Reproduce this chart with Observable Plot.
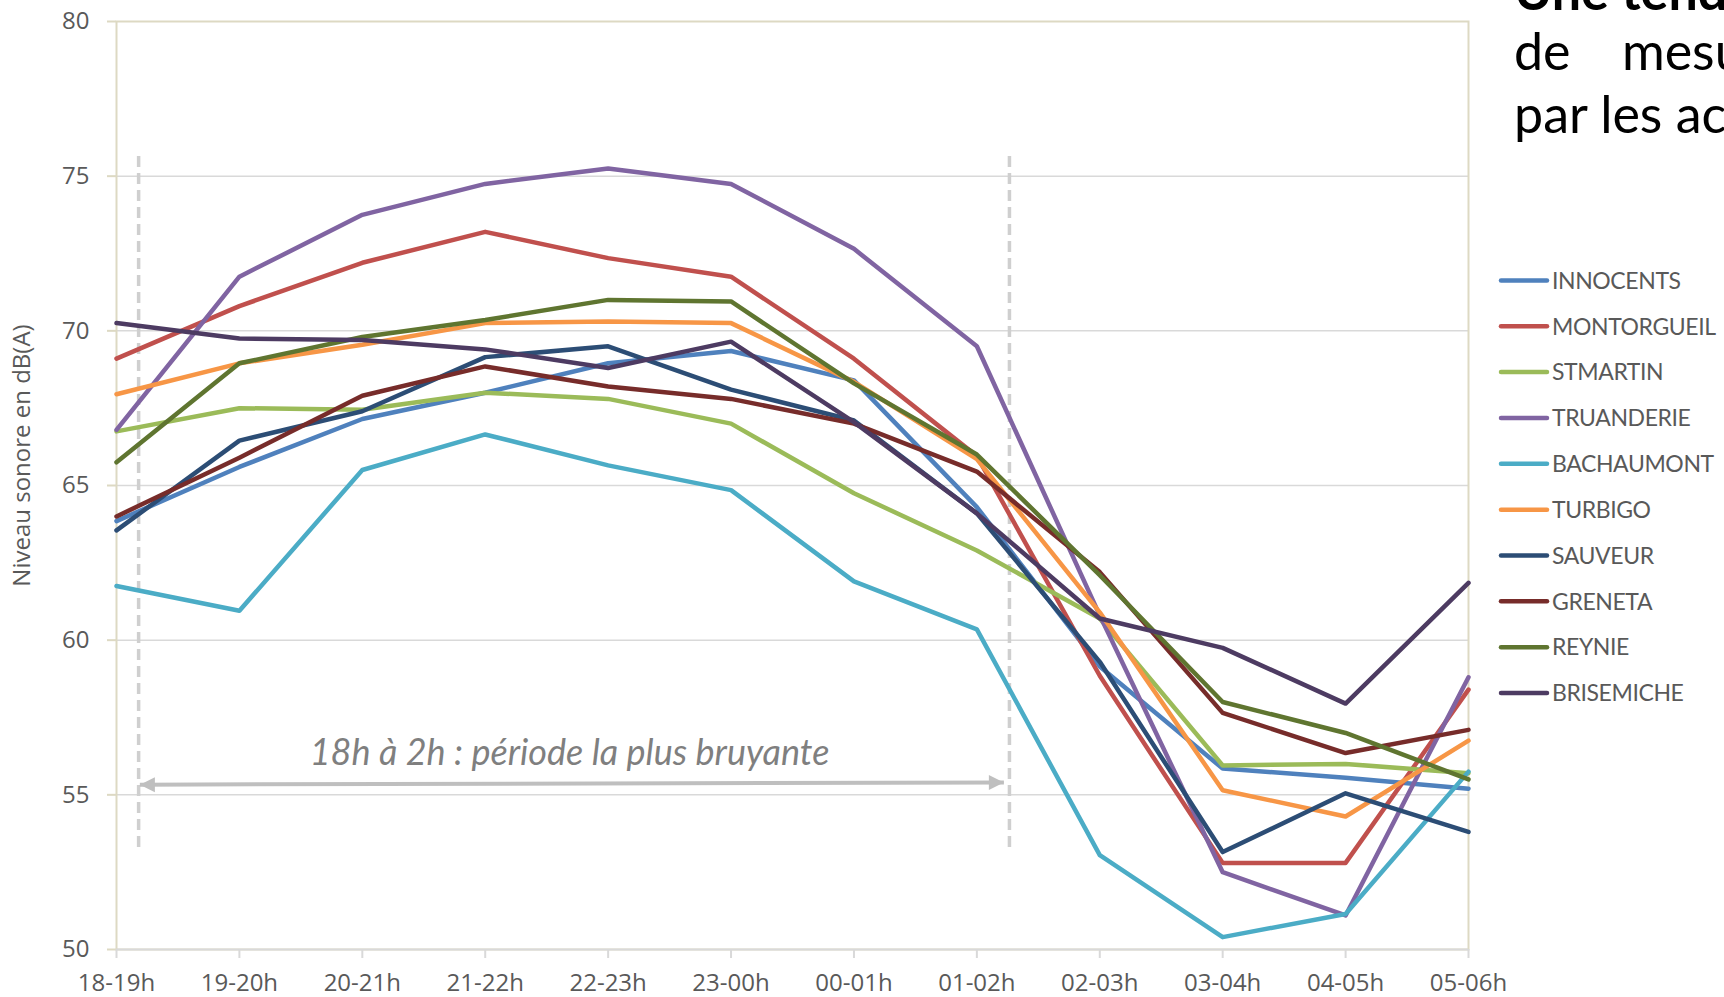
<!DOCTYPE html>
<html>
<head>
<meta charset="utf-8">
<script src="https://cdn.jsdelivr.net/npm/d3@7"></script>
<script src="https://cdn.jsdelivr.net/npm/@observablehq/plot@0.6"></script>
<style>
  html, body { margin: 0; padding: 0; background: #fff; overflow: hidden; width: 1724px; height: 997px; }
  #wrap { position: relative; width: 1724px; height: 997px; overflow: hidden; }
  #chart { position: absolute; left: 0; top: 0; }
  #overlay { position: absolute; left: 0; top: 0; pointer-events: none; }
</style>
</head>
<body>
<div id="wrap">
  <div id="chart"></div>
  <svg id="overlay" width="1724" height="997"></svg>
</div>
<script>
// ---- Data ----
const hours = ["18-19h","19-20h","20-21h","21-22h","22-23h","23-00h","00-01h","01-02h","02-03h","03-04h","04-05h","05-06h"];
const sites = ["INNOCENTS","MONTORGUEIL","STMARTIN","TRUANDERIE","BACHAUMONT","TURBIGO","SAUVEUR","GRENETA","REYNIE","BRISEMICHE"];
const colors = ["#4F81BD","#C0504D","#9BBB59","#8064A2","#4BACC6","#F79646","#2C4D75","#772C2A","#5F7530","#4D3B62"];

const innocents   = [63.85, 65.6, 67.15, 68.0, 68.95, 69.35, 68.4, 64.3, 59.15, 55.85, 55.55, 55.2];
const montorgueil = [69.1, 70.8, 72.2, 73.2, 72.35, 71.75, 69.1, 65.95, 58.85, 52.8, 52.8, 58.4];
const stmartin    = [66.75, 67.5, 67.45, 68.0, 67.8, 67.0, 64.75, 62.9, 60.7, 55.95, 56.0, 55.7];
const truanderie  = [66.8, 71.75, 73.75, 74.75, 75.25, 74.75, 72.65, 69.5, 60.8, 52.5, 51.1, 58.8];
const bachaumont  = [61.75, 60.95, 65.5, 66.65, 65.65, 64.85, 61.9, 60.35, 53.05, 50.4, 51.15, 55.75];
const turbigo     = [67.95, 68.95, 69.55, 70.25, 70.3, 70.25, 68.35, 65.85, 60.9, 55.15, 54.3, 56.75];
const sauveur     = [63.55, 66.45, 67.4, 69.15, 69.5, 68.1, 67.1, 64.1, 59.3, 53.15, 55.05, 53.8];
const greneta     = [64.0, 65.9, 67.9, 68.85, 68.2, 67.8, 67.0, 65.45, 62.2, 57.65, 56.35, 57.1];
const reynie      = [65.75, 68.95, 69.8, 70.35, 71.0, 70.95, 68.3, 66.0, 62.1, 58.0, 57.0, 55.5];
const brisemiche  = [70.25, 69.75, 69.7, 69.4, 68.8, 69.65, 67.05, 64.1, 60.7, 59.75, 57.95, 61.85];

const series = [innocents, montorgueil, stmartin, truanderie, bachaumont, turbigo, sauveur, greneta, reynie, brisemiche];

const yTicks = [50, 55, 60, 65, 70, 75, 80];
const gridTicks = [55, 60, 65, 70, 75];
const yLabel = "Niveau sonore en dB(A)";
const annotation = "18h à 2h : période la plus bruyante";
// the noisiest period (18h -> 2h), in hour-slot units
const periodBounds = [0.18, 7.265];
const periodArrow = {x1: 0.19, x2: 7.22, y1: 55.33, y2: 55.40};
const titleLines = ["Une tendance", "de mesures", "par les activités"];

// ---- Long table ----
const data = [];
sites.forEach((s, k) => series[k].forEach((v, i) => data.push({site: s, i, hour: hours[i], value: v})));

// custom arrowhead symbols (tip at origin)
const headRight = {draw(ctx, size) { const s = Math.sqrt(size / Math.PI); ctx.moveTo(0, 0); ctx.lineTo(-s, -s / 2); ctx.lineTo(-s, s / 2); ctx.closePath(); }};
const headLeft  = {draw(ctx, size) { const s = Math.sqrt(size / Math.PI); ctx.moveTo(0, 0); ctx.lineTo(s, -s / 2); ctx.lineTo(s, s / 2); ctx.closePath(); }};

const chart = Plot.plot({
  width: 1724,
  height: 997,
  marginLeft: 116,
  marginRight: 256,
  marginTop: 21,
  marginBottom: 48,
  style: {fontFamily: "'Open Sans', sans-serif", fontSize: "24px", color: "#595959", background: "transparent", overflow: "visible"},
  x: {domain: [0, 11]},
  y: {domain: [50, 80]},
  color: {domain: sites, range: colors},
  marks: [
    Plot.ruleY(gridTicks, {stroke: "#D9D9D9", strokeWidth: 1.5}),
    Plot.frame({stroke: "#DDD9C3", strokeWidth: 2}),
    Plot.ruleY([50], {stroke: "#D9D9D9", strokeWidth: 2}),
    Plot.axisY({ticks: yTicks, tickSize: 9, tickPadding: 18, stroke: "#DDD9C3", strokeWidth: 2, fill: "#595959", fontSize: 24, label: null}),
    Plot.axisX({ticks: d3.range(hours.length), tickFormat: i => hours[i], tickSize: 9, tickPadding: 15, stroke: "#D9D9D9", strokeWidth: 2, fill: "#595959", fontSize: 24, label: null}),
    Plot.text([yLabel], {text: d => d, frameAnchor: "left", y: () => 65.97, dx: -94, rotate: -90, textAnchor: "middle", fill: "#595959", fontSize: 24, fontFamily: "'Open Sans', sans-serif"}),
    Plot.ruleX(periodBounds, {y1: 53.3, y2: 75.65, stroke: "#CFCFCF", strokeWidth: 3.5, strokeDasharray: "11,6"}),
    Plot.link([periodArrow], {x1: "x1", x2: "x2", y1: "y1", y2: "y2", stroke: "#BFBFBF", strokeWidth: 4}),
    Plot.dot([periodArrow], {x: "x1", y: "y1", symbol: headLeft, r: 15, fill: "#BFBFBF", stroke: "none"}),
    Plot.dot([periodArrow], {x: "x2", y: "y2", symbol: headRight, r: 15, fill: "#BFBFBF", stroke: "none"}),
    Plot.text([annotation], {text: d => d, x: () => 3.686, y: () => 55.95, lineAnchor: "bottom", textAnchor: "middle", fill: "#7F7F7F", fontSize: 36, fontStyle: "italic", fontFamily: "Lato, sans-serif"}),
    Plot.line(data, {x: "i", y: "value", z: "site", stroke: "site", strokeWidth: 4.5, strokeLinejoin: "round", strokeLinecap: "round"})
  ]
});
document.getElementById("chart").appendChild(chart);

// ---- Legend and cropped slide text (overlay) ----
const ov = d3.select("#overlay");
const lg = ov.append("g");
sites.forEach((s, k) => {
  const y = 280.4 + k * 45.85;
  lg.append("line").attr("x1", 1501).attr("x2", 1547).attr("y1", y).attr("y2", y)
    .attr("stroke", colors[k]).attr("stroke-width", 4.5).attr("stroke-linecap", "round");
  lg.append("text").attr("x", 1552).attr("y", y).attr("dy", "0.36em")
    .attr("font-family", "Lato, sans-serif").attr("font-size", 23).attr("letter-spacing", "-0.4px")
    .attr("fill", "#595959").text(s);
});
const tt = ov.append("g").attr("font-family", "Lato, sans-serif").attr("font-size", 52).attr("fill", "#000");
tt.append("text").attr("x", 1514).attr("y", 10).attr("font-weight", "bold").text(titleLines[0]);
tt.append("text").attr("x", 1514).attr("y", 70).attr("word-spacing", "38px").text(titleLines[1]);
tt.append("text").attr("x", 1514).attr("y", 133).text(titleLines[2]);
</script>
</body>
</html>
